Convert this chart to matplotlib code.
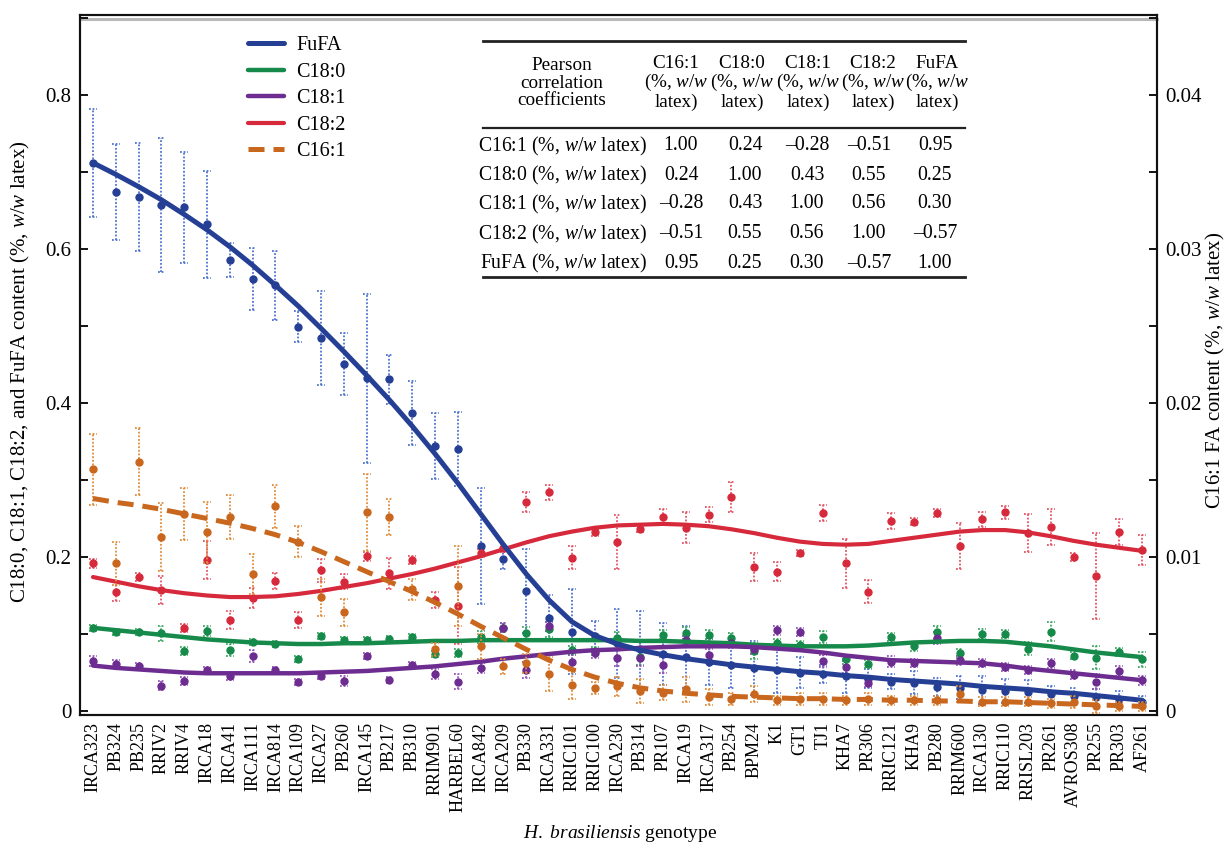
import numpy as np
import matplotlib
matplotlib.use('Agg')
import matplotlib.pyplot as plt
from matplotlib.lines import Line2D
from matplotlib.ticker import MultipleLocator

plt.rcParams['font.family'] = 'Liberation Serif'
plt.rcParams['mathtext.fontset'] = 'custom'
plt.rcParams['mathtext.rm'] = 'Liberation Serif'
plt.rcParams['mathtext.it'] = 'Liberation Serif:italic'

# Data
# --------------
genotypes = ['IRCA323', 'PB324', 'PB235', 'RRIV2', 'RRIV4', 'IRCA18', 'IRCA41', 'IRCA111',
             'IRCA814', 'IRCA109', 'IRCA27', 'PB260', 'IRCA145', 'PB217', 'PB310', 'RRIM901',
             'HARBEL60', 'IRCA842', 'IRCA209', 'PB330', 'IRCA331', 'RRIC101', 'RRIC100',
             'IRCA230', 'PB314', 'PR107', 'IRCA19', 'IRCA317', 'PB254', 'BPM24', 'K1', 'GT1',
             'TJ1', 'KHA7', 'PR306', 'RRIC121', 'KHA9', 'PB280', 'RRIM600', 'IRCA130',
             'RRIC110', 'RRISL203', 'PR261', 'AVROS308', 'PR255', 'PR303', 'AF261']

# FuFA (left axis)
fufa_mean = [0.712, 0.674, 0.668, 0.657, 0.654, 0.632, 0.586, 0.561, 0.553, 0.499,
             0.484, 0.451, 0.432, 0.431, 0.387, 0.344, 0.340, 0.214, 0.197, 0.156,
             0.121, 0.103, 0.097, 0.088, 0.080, 0.074, 0.070, 0.064, 0.060, 0.056,
             0.053, 0.050, 0.048, 0.045, 0.042, 0.038, 0.037, 0.031, 0.030, 0.027,
             0.026, 0.025, 0.022, 0.020, 0.018, 0.016, 0.012]
fufa_err = [0.070, 0.062, 0.070, 0.087, 0.072, 0.070, 0.022, 0.040, 0.045, 0.020,
            0.061, 0.040, 0.110, 0.032, 0.042, 0.043, 0.048, 0.075, 0.012, 0.055,
            0.030, 0.055, 0.020, 0.045, 0.050, 0.040, 0.040, 0.030, 0.030, 0.035,
            0.030, 0.020, 0.012, 0.022, 0.012, 0.010, 0.015, 0.012, 0.015, 0.018,
            0.015, 0.015, 0.010, 0.010, 0.010, 0.010, 0.008]
fufa_fit = [0.712, 0.697, 0.681, 0.664, 0.645, 0.625, 0.603, 0.579, 0.553, 0.526,
            0.497, 0.467, 0.436, 0.404, 0.370, 0.334, 0.296, 0.256, 0.216, 0.178,
            0.144, 0.116, 0.098, 0.087, 0.079, 0.073, 0.068, 0.064, 0.060, 0.057,
            0.054, 0.051, 0.049, 0.046, 0.044, 0.041, 0.039, 0.037, 0.035, 0.032,
            0.030, 0.028, 0.025, 0.023, 0.020, 0.017, 0.014]

# C18:0 (left axis)
c180_mean = [0.108, 0.103, 0.103, 0.101, 0.078, 0.104, 0.079, 0.090, 0.087, 0.067,
             0.097, 0.092, 0.092, 0.093, 0.096, 0.074, 0.075, 0.096, 0.108, 0.101,
             0.106, 0.079, 0.078, 0.095, 0.070, 0.099, 0.101, 0.099, 0.095, 0.078,
             0.088, 0.086, 0.096, 0.067, 0.061, 0.096, 0.084, 0.102, 0.075, 0.100,
             0.100, 0.081, 0.103, 0.072, 0.069, 0.077, 0.067]
c180_err = [0.004, 0.004, 0.004, 0.010, 0.005, 0.007, 0.008, 0.004, 0.004, 0.004,
            0.004, 0.004, 0.004, 0.005, 0.004, 0.004, 0.005, 0.008, 0.006, 0.008,
            0.010, 0.006, 0.005, 0.008, 0.010, 0.006, 0.008, 0.006, 0.006, 0.010,
            0.006, 0.005, 0.008, 0.006, 0.005, 0.005, 0.006, 0.008, 0.006, 0.006,
            0.005, 0.008, 0.012, 0.004, 0.015, 0.005, 0.010]
c180_fit = [0.108, 0.105, 0.102, 0.099, 0.096, 0.093, 0.091, 0.089, 0.088, 0.087,
            0.087, 0.088, 0.088, 0.089, 0.090, 0.091, 0.091, 0.092, 0.092, 0.092,
            0.092, 0.092, 0.092, 0.092, 0.091, 0.091, 0.090, 0.089, 0.088, 0.086,
            0.085, 0.084, 0.084, 0.084, 0.085, 0.087, 0.089, 0.090, 0.091, 0.091,
            0.090, 0.087, 0.084, 0.080, 0.076, 0.073, 0.070]

# C18:1 (left axis)
c181_mean = [0.065, 0.061, 0.058, 0.033, 0.039, 0.053, 0.045, 0.071, 0.053, 0.038,
             0.046, 0.039, 0.071, 0.040, 0.060, 0.048, 0.038, 0.056, 0.108, 0.053,
             0.110, 0.063, 0.075, 0.069, 0.069, 0.060, 0.092, 0.073, 0.088, 0.080,
             0.105, 0.103, 0.065, 0.057, 0.036, 0.064, 0.062, 0.095, 0.066, 0.062,
             0.057, 0.053, 0.062, 0.047, 0.038, 0.052, 0.040]
c181_err = [0.007, 0.005, 0.004, 0.006, 0.005, 0.004, 0.005, 0.008, 0.004, 0.004,
            0.004, 0.006, 0.004, 0.004, 0.004, 0.006, 0.010, 0.006, 0.006, 0.010,
            0.006, 0.010, 0.006, 0.010, 0.010, 0.010, 0.006, 0.008, 0.006, 0.006,
            0.006, 0.005, 0.008, 0.008, 0.005, 0.007, 0.005, 0.008, 0.006, 0.005,
            0.005, 0.005, 0.006, 0.006, 0.010, 0.006, 0.006]
c181_fit = [0.059, 0.056, 0.054, 0.052, 0.050, 0.049, 0.049, 0.049, 0.049, 0.049,
            0.050, 0.051, 0.052, 0.054, 0.056, 0.058, 0.061, 0.064, 0.068, 0.071,
            0.074, 0.077, 0.079, 0.080, 0.082, 0.083, 0.084, 0.084, 0.084, 0.083,
            0.081, 0.079, 0.076, 0.072, 0.069, 0.066, 0.065, 0.064, 0.063, 0.062,
            0.059, 0.055, 0.052, 0.049, 0.046, 0.043, 0.040]

# C18:2 (left axis)
c182_mean = [0.192, 0.155, 0.174, 0.157, 0.108, 0.196, 0.118, 0.147, 0.169, 0.118,
             0.183, 0.168, 0.201, 0.179, 0.196, 0.144, 0.137, 0.205, 0.212, 0.272,
             0.284, 0.199, 0.232, 0.220, 0.237, 0.252, 0.238, 0.255, 0.278, 0.187,
             0.181, 0.205, 0.257, 0.192, 0.155, 0.247, 0.246, 0.257, 0.214, 0.249,
             0.258, 0.231, 0.239, 0.200, 0.175, 0.232, 0.209]
c182_err = [0.006, 0.012, 0.005, 0.018, 0.005, 0.025, 0.012, 0.013, 0.010, 0.010,
            0.015, 0.010, 0.006, 0.020, 0.005, 0.010, 0.050, 0.005, 0.005, 0.013,
            0.010, 0.015, 0.005, 0.035, 0.005, 0.010, 0.020, 0.010, 0.020, 0.018,
            0.012, 0.004, 0.010, 0.032, 0.015, 0.010, 0.005, 0.005, 0.030, 0.010,
            0.008, 0.025, 0.024, 0.005, 0.056, 0.017, 0.020]
c182_fit = [0.174, 0.168, 0.162, 0.157, 0.153, 0.150, 0.148, 0.148, 0.149, 0.152,
            0.156, 0.161, 0.166, 0.172, 0.178, 0.185, 0.193, 0.201, 0.210, 0.219,
            0.227, 0.233, 0.238, 0.241, 0.242, 0.243, 0.242, 0.240, 0.236, 0.231,
            0.225, 0.220, 0.217, 0.216, 0.217, 0.221, 0.225, 0.229, 0.233, 0.235,
            0.235, 0.232, 0.227, 0.221, 0.216, 0.212, 0.208]

# C16:1 (right axis)
c161_mean = [0.0157, 0.0096, 0.0162, 0.0113, 0.0128, 0.0116, 0.0126, 0.0089, 0.0133, 0.0110,
             0.0074, 0.0064, 0.0129, 0.0126, 0.0079, 0.0040, 0.0081, 0.0042, 0.0029, 0.0031,
             0.0024, 0.0017, 0.0015, 0.0016, 0.0013, 0.0012, 0.0014, 0.0009, 0.0008, 0.0011,
             0.0007, 0.0008, 0.0008, 0.0007, 0.0008, 0.0007, 0.0007, 0.0007, 0.0011, 0.0006,
             0.0006, 0.0006, 0.0005, 0.0006, 0.0003, 0.0003, 0.0003]
c161_err = [0.0023, 0.0014, 0.0022, 0.0022, 0.0017, 0.0020, 0.0014, 0.0013, 0.0014, 0.0010,
            0.0012, 0.0009, 0.0025, 0.0012, 0.0007, 0.0004, 0.0026, 0.0008, 0.0005, 0.0006,
            0.0011, 0.0009, 0.0004, 0.0006, 0.0008, 0.0005, 0.0008, 0.0005, 0.0004, 0.0005,
            0.0003, 0.0004, 0.0004, 0.0003, 0.0004, 0.0003, 0.0003, 0.0003, 0.0005, 0.0003,
            0.0003, 0.0003, 0.0003, 0.0004, 0.0004, 0.0003, 0.0003]
c161_fit = [0.01380, 0.01355, 0.01335, 0.01310, 0.01280, 0.01250, 0.01220, 0.01185, 0.01145, 0.01095,
            0.01035, 0.00970, 0.00905, 0.00840, 0.00775, 0.00705, 0.00630, 0.00550, 0.00475, 0.00400,
            0.00330, 0.00270, 0.00220, 0.00180, 0.00150, 0.00130, 0.00115, 0.00105, 0.00095, 0.00090,
            0.00085, 0.00080, 0.00080, 0.00075, 0.00075, 0.00070, 0.00070, 0.00065, 0.00065, 0.00060,
            0.00060, 0.00055, 0.00050, 0.00045, 0.00040, 0.00035, 0.00030]

# Pearson correlation table
corr_names = ['C16:1', 'C18:0', 'C18:1', 'C18:2', 'FuFA']
corr_values = [[1.00, 0.24, -0.28, -0.51, 0.95],
               [0.24, 1.00, 0.43, 0.55, 0.25],
               [-0.28, 0.43, 1.00, 0.56, 0.30],
               [-0.51, 0.55, 0.56, 1.00, -0.57],
               [0.95, 0.25, 0.30, -0.57, 1.00]]

# Figure
# --------------
W, H = 1229, 849
fig = plt.figure(figsize=(W / 100, H / 100), dpi=100)
fig.patch.set_facecolor('white')
ax = fig.add_axes([80 / W, 1 - 715 / H, 1077 / W, 700 / H])
ax2 = ax.twinx()

x = np.arange(len(genotypes))


def fx(px):
    return px / W


def fy(py):
    return 1 - py / H


def draw_series(axis, mean, err, fit, color, ecolor, label, lw=3.0, dashed=False, z=4):
    mean = np.array(mean)
    err = np.array(err)
    eb = axis.errorbar(x, mean, yerr=err, fmt='o', ms=5, color=color, mec=color,
                       ecolor=ecolor, elinewidth=1.3, capsize=0, zorder=2)
    eb[2][0].set_linestyle((0, (1, 1)))
    for yy in (mean - err, mean + err):
        axis.hlines(yy, x - 0.17, x + 0.17, colors=ecolor, linestyles=(0, (1, 1)),
                    linewidth=1.3, zorder=2)
    if dashed:
        ln, = axis.plot(x, fit, color=color, lw=lw, dashes=(3.2, 1.8), zorder=z,
                        label=label, solid_capstyle='butt')
    else:
        ln, = axis.plot(x, fit, color=color, lw=lw, zorder=z, label=label,
                        solid_joinstyle='round', solid_capstyle='round')
    return ln


l_fufa = draw_series(ax, fufa_mean, fufa_err, fufa_fit, '#253f95', '#4f74cf', 'FuFA', lw=3.6, z=6)
l_c180 = draw_series(ax, c180_mean, c180_err, c180_fit, '#168a4a', '#3aa862', 'C18:0', lw=3.2)
l_c181 = draw_series(ax, c181_mean, c181_err, c181_fit, '#6d2c90', '#9356b8', 'C18:1', lw=3.2)
l_c182 = draw_series(ax, c182_mean, c182_err, c182_fit, '#d62a3c', '#e35566', 'C18:2', lw=3.0)
l_c161 = draw_series(ax2, c161_mean, c161_err, c161_fit, '#c8671d', '#e08c3c', 'C16:1', lw=3.6,
                     dashed=True)

# Axes limits and ticks
ax.set_xlim(-0.57, 46.66)
ax.set_ylim(-0.0052, 0.904)
ax2.set_ylim(-0.00026, 0.0452)

ax.set_xticks(x)
ax.set_xticklabels(genotypes, rotation=90, fontsize=13)
ax.tick_params(axis='x', length=0, pad=5)

ax.set_yticks([0, 0.2, 0.4, 0.6, 0.8])
ax.set_yticklabels(['0', '0.2', '0.4', '0.6', '0.8'])
ax.yaxis.set_minor_locator(MultipleLocator(0.1))
ax.tick_params(axis='y', which='both', direction='in', length=6, width=1.3, labelsize=15, pad=6)

ax2.set_yticks([0, 0.01, 0.02, 0.03, 0.04])
ax2.set_yticklabels(['0', '0.01', '0.02', '0.03', '0.04'])
ax2.yaxis.set_minor_locator(MultipleLocator(0.005))
ax2.tick_params(axis='y', which='both', direction='in', length=6, width=1.3, labelsize=15, pad=6)

for a in (ax, ax2):
    for s in a.spines.values():
        s.set_linewidth(1.5)
        s.set_color('#111111')

# grey double line under the top frame
ax.plot([0, 1], [0.9945, 0.9945], transform=ax.transAxes, color='#b8b8b8', lw=2.2,
        zorder=1, clip_on=False)

# Axis titles
fig.text(fx(20), fy(372), 'C18:0, C18:1, C18:2, and FuFA content (%, $\\mathit{w/w}$ latex)',
         rotation=90, ha='center', va='center', fontsize=15)
fig.text(fx(1215), fy(370), 'C16:1 FA content (%, $\\mathit{w/w}$ latex)',
         rotation=90, ha='center', va='center', fontsize=15)
fig.text(fx(620), fy(833), '$\\mathit{H.\\ brasiliensis}$ genotype',
         ha='center', va='center', fontsize=14)

# Legend
ax2.legend(handles=[l_fufa, l_c180, l_c181, l_c182, l_c161], loc='upper left',
           bbox_to_anchor=((248 - 80) / 1077, (715 - 36) / 700), frameon=False,
           fontsize=14.5, handlelength=1.8, handletextpad=0.6, labelspacing=0.37,
           borderpad=0, borderaxespad=0)

# Correlation table
fig.add_artist(Line2D([fx(483), fx(965)], [fy(41), fy(41)], color='#222222', lw=2))
fig.add_artist(Line2D([fx(483), fx(965)], [fy(128), fy(128)], color='#222222', lw=1.6))
fig.add_artist(Line2D([fx(483), fx(965)], [fy(277), fy(277)], color='#222222', lw=2))

fs_tab = 14.2
fs_head = 13.8
fig.text(fx(562), fy(83), 'Pearson\ncorrelation\ncoefficients', ha='center', va='center',
         fontsize=fs_head, linespacing=1.05)
head_x = [676, 742, 808, 873, 937]
val_x = [681, 745, 807, 869, 935]
row_y = [146, 175, 204, 234, 263]
for name, hx in zip(corr_names, head_x):
    fig.text(fx(hx), fy(83), name + '\n(%, $\\mathit{w/w}$\nlatex)', ha='center', va='center',
             fontsize=fs_head, linespacing=1.05)
for name, vals, ry in zip(corr_names, corr_values, row_y):
    fig.text(fx(563), fy(ry), name + ' (%, $\\mathit{w/w}$ latex)', ha='center', va='center',
             fontsize=fs_tab)
    for v, vx in zip(vals, val_x):
        txt = f'{v:.2f}' if v >= 0 else '\u2013' + f'{-v:.2f}'
        fig.text(fx(vx), fy(ry), txt, ha='center', va='center', fontsize=fs_tab)

fig.savefig('out.png', dpi=100, facecolor='white')
